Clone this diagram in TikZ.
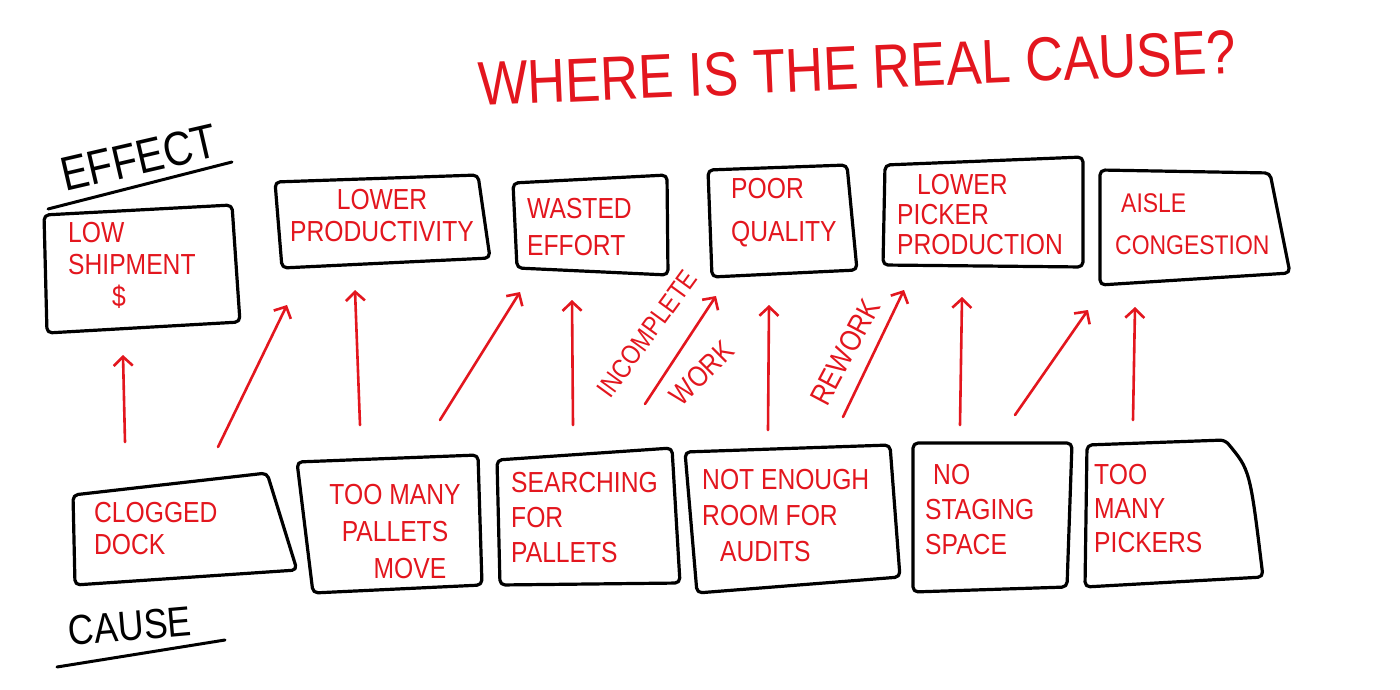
\documentclass[tikz,border=0pt]{standalone}
\usepackage{fontspec}
\setmainfont{Liberation Sans}
\newfontfamily\hand[FakeStretch=0.85]{Liberation Sans}
\usetikzlibrary{arrows.meta}
\definecolor{marker}{HTML}{E3161E}
\begin{document}
\begin{tikzpicture}[x=1pt,y=-1pt,
  boxline/.style={draw=black,line width=3.2pt,line join=round,rounded corners=5pt},
  boxtext/.style={text=marker,inner sep=0pt,font=\hand\fontsize{29}{32}\selectfont},
  lbl/.style={text=marker,inner sep=0pt,font=\hand\fontsize{27}{28}\selectfont},
  heading/.style={text=black,inner sep=0pt},
  rule/.style={draw=black,line width=3pt,line cap=round},
  causes/.style={draw=marker,line width=2.6pt,line cap=round,
    -{Straight Barb[length=9pt,width=19pt,line width=2.6pt]}}]
\useasboundingbox[fill=white] (0,0) rectangle (1400,690);

% ---- title and headings
\node[text=marker,inner sep=0pt,font=\hand\fontsize{62}{64}\selectfont,rotate=2.5] (title) at (857,68) {WHERE IS THE REAL CAUSE?};
\node[heading,font=\hand\fontsize{48}{50}\selectfont,rotate=13] (effect) at (139,158) {EFFECT};
\draw[rule] (48,209) -- (232,162);
\node[heading,font=\hand\fontsize{42}{44}\selectfont,rotate=5] (cause) at (130,626) {CAUSE};
\draw[rule] (57,667) -- (225,640);

% ---- effect boxes
\draw[boxline] (44,215) -- (232,205) -- (240,322) -- (47,333) -- cycle;
\node[boxtext,align=left,anchor=west] (e1) at (68,265) {LOW\\SHIPMENT\\\hspace*{44pt}\$};

\draw[boxline] (275,182) -- (478,175) -- (490,258) -- (282,268) -- cycle;
\node[boxtext,align=center] (e2) at (382,216) {LOWER\\PRODUCTIVITY};

\draw[boxline] (513,183) -- (667,175) -- (668,275) -- (517,268) -- cycle;
\node[boxtext,align=left,anchor=west,font=\hand\fontsize{29}{37}\selectfont] (e3) at (527,227) {WASTED\\EFFORT};

\draw[boxline] (708,170) -- (847,165) -- (857,270) -- (712,277) -- cycle;
\node[boxtext,align=left,anchor=west,font=\hand\fontsize{29}{43}\selectfont] (e4) at (731,213) {POOR\\QUALITY};

\draw[boxline] (885,165) -- (1083,157) -- (1083,267) -- (883,265) -- cycle;
\node[boxtext,align=left,anchor=west,font=\hand\fontsize{29}{30}\selectfont] (e5) at (897,215) {\hspace*{20pt}LOWER\\PICKER\\PRODUCTION};

\draw[boxline] (1100,170) -- (1270,173) -- (1290,273) -- (1100,285) -- cycle;
\node[boxtext,align=left,anchor=west,font=\hand\fontsize{27}{42}\selectfont] (e6) at (1115,224) {\hspace*{6pt}AISLE\\CONGESTION};

% ---- cause boxes
\draw[boxline] (73,495) -- (267,473) -- (297,570) -- (75,585) -- cycle;
\node[boxtext,align=left,anchor=west] (c1) at (94,529) {CLOGGED\\DOCK};

\draw[boxline] (297,462) -- (478,455) -- (482,585) -- (313,593) -- cycle;
\node[boxtext,align=center,font=\hand\fontsize{29}{37}\selectfont] (c2) at (395,532) {TOO MANY\\PALLETS\\\hspace*{30pt}MOVE};

\draw[boxline] (497,460) -- (672,448) -- (680,583) -- (500,585) -- cycle;
\node[boxtext,align=left,anchor=west,font=\hand\fontsize{29}{35}\selectfont] (c3) at (511,518) {SEARCHING\\FOR\\PALLETS};

\draw[boxline] (685,452) -- (890,445) -- (900,577) -- (697,593) -- cycle;
\node[boxtext,align=left,anchor=west,font=\hand\fontsize{29}{36}\selectfont] (c4) at (702,516) {NOT ENOUGH\\ROOM FOR\\\hspace*{18pt}AUDITS};

\draw[boxline] (913,443) -- (1072,443) -- (1067,587) -- (913,592) -- cycle;
\node[boxtext,align=left,anchor=west,font=\hand\fontsize{29}{35}\selectfont] (c5) at (925,510) {\hspace*{8pt}NO\\STAGING\\SPACE};

\draw[boxline] (1087,445) -- (1225,440) .. controls (1250,470) .. (1263,577) -- (1085,587) -- cycle;
\node[boxtext,align=left,anchor=west,font=\hand\fontsize{29}{34}\selectfont] (c6) at (1094,509) {TOO\\MANY\\PICKERS};

% ---- arrow end points
\coordinate (a1s) at (125,442);  \coordinate (a1e) at (123,355);
\coordinate (a2s) at (218,447);  \coordinate (a2e) at (287,305);
\coordinate (a3s) at (360,425);  \coordinate (a3e) at (355,290);
\coordinate (a4s) at (440,420);  \coordinate (a4e) at (520,292);
\coordinate (a5s) at (573,425);  \coordinate (a5e) at (572,300);
\coordinate (a6s) at (645,404);  \coordinate (a6e) at (716,296);
\coordinate (a7s) at (768,430);  \coordinate (a7e) at (769,305);
\coordinate (a8s) at (843,417);  \coordinate (a8e) at (904,290);
\coordinate (a9s) at (960,425);  \coordinate (a9e) at (962,297);
\coordinate (a10s) at (1015,415); \coordinate (a10e) at (1088,310);
\coordinate (a11s) at (1133,420); \coordinate (a11e) at (1135,307);

\foreach \i in {1,...,11}{\draw[causes] (a\i s) -- (a\i e);}

% ---- arrow labels
\node[lbl,rotate=54] (incomplete) at (647,334) {INCOMPLETE};
\node[lbl,rotate=45,font=\hand\fontsize{29}{30}\selectfont] (work) at (702,373) {WORK};
\node[lbl,rotate=62,font=\hand\fontsize{30}{30}\selectfont] (rework) at (845,352) {REWORK};
\end{tikzpicture}
\end{document}
